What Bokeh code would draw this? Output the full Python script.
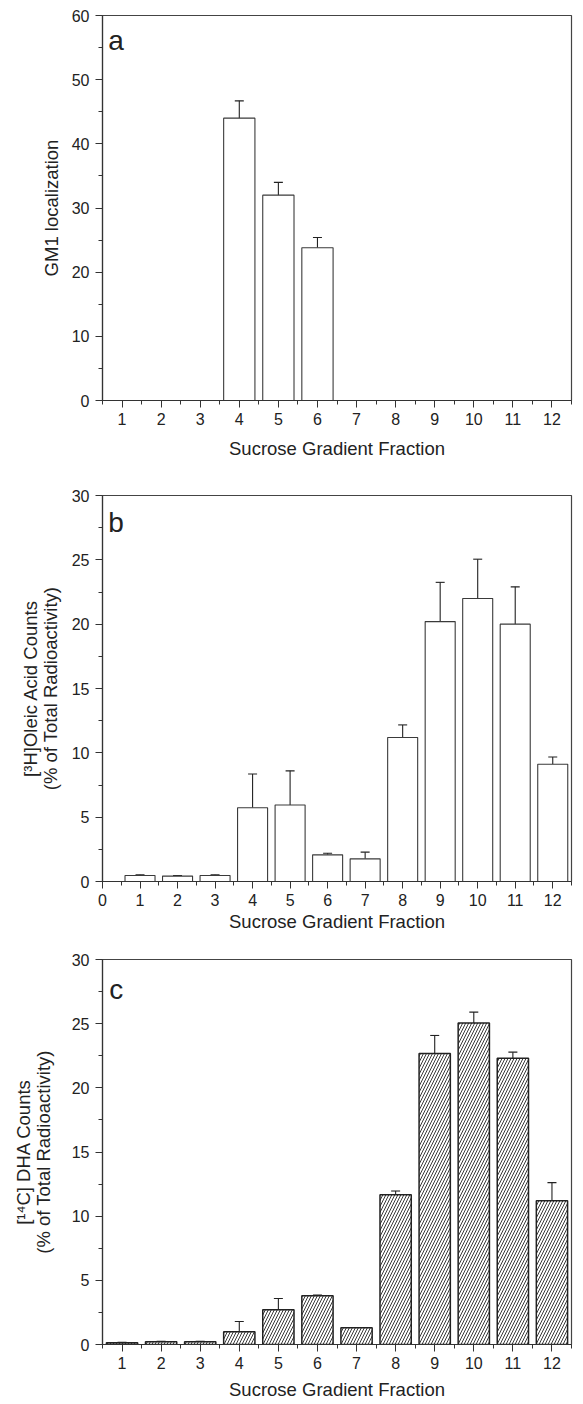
from bokeh.plotting import figure
from bokeh.layouts import column
from bokeh.models import ColumnDataSource, Whisker, TeeHead, FixedTicker, Range1d, Label
from bokeh.embed import file_html
from bokeh.resources import INLINE

# ---------------- data ----------------
fractions = list(range(1, 13))

gm1_values = [0, 0, 0, 44.0, 32.0, 23.8, 0, 0, 0, 0, 0, 0]
gm1_upper = [0, 0, 0, 46.7, 34.0, 25.4, 0, 0, 0, 0, 0, 0]

oleic_values = [0.47, 0.42, 0.47, 5.73, 5.95, 2.07, 1.76, 11.19, 20.2, 22.0, 20.0, 9.11]
oleic_upper = [0.52, 0.46, 0.52, 8.35, 8.6, 2.2, 2.28, 12.17, 23.25, 25.05, 22.9, 9.68]

dha_values = [0.13, 0.21, 0.21, 0.99, 2.7, 3.8, 1.3, 11.67, 22.67, 25.06, 22.31, 11.21]
dha_upper = [0.18, 0.24, 0.24, 1.79, 3.59, 3.85, 1.3, 11.96, 24.08, 25.9, 22.78, 12.61]

x_ticks_a = [1, 2, 3, 4, 5, 6, 7, 8, 9, 10, 11, 12]
x_ticks_b = [0, 1, 2, 3, 4, 5, 6, 7, 8, 9, 10, 11, 12]
x_minor = [0.5, 1.5, 2.5, 3.5, 4.5, 5.5, 6.5, 7.5, 8.5, 9.5, 10.5, 11.5, 12.5]
y_ticks_a = [0, 10, 20, 30, 40, 50, 60]
y_minor_a = [5, 15, 25, 35, 45, 55]
y_ticks_bc = [0, 5, 10, 15, 20, 25, 30]
y_minor_bc = [2.5, 7.5, 12.5, 17.5, 22.5, 27.5]

x_title = "Sucrose Gradient Fraction"
y_title_a = "GM1 localization"
y_title_b = "[\u00b3H]Oleic Acid Counts\n(% of Total Radioactivity)"
y_title_c = "[\u00b9\u2074C] DHA Counts\n(% of Total Radioactivity)"

FONT = "Liberation Sans"
TXT = "#222222"
LINE = "#333333"
W = 583


def make_panel(height, borders, xr, yr, xticks, yticks, yminor, values, upper,
               letter, letter_pos, ytitle, ystandoff, xstandoff, hatch=False):
    top, right, bottom, left = borders
    p = figure(width=W, height=height, output_backend="svg", toolbar_location=None,
               x_range=Range1d(*xr), y_range=Range1d(*yr),
               min_border_top=top, min_border_right=right,
               min_border_bottom=bottom, min_border_left=left)
    p.xgrid.visible = False
    p.ygrid.visible = False
    p.outline_line_color = "#444444"
    p.outline_line_width = 1.2
    p.background_fill_color = "white"
    p.border_fill_color = "white"

    src = ColumnDataSource(dict(x=fractions, top=values, up=upper))
    if hatch:
        p.vbar(x="x", top="top", width=0.8, bottom=0, source=src,
               fill_color="white", line_color="#222222", line_width=1.5,
               hatch_pattern="/", hatch_scale=6, hatch_weight=1, hatch_color="#3a3a3a")
    else:
        p.vbar(x="x", top="top", width=0.8, bottom=0, source=src,
               fill_color="white", line_color="#3a3a3a", line_width=1.1)

    # error bars only where an upper value exceeds the bar
    ex = [x for x, v, u in zip(fractions, values, upper) if u > v]
    ev = [v for v, u in zip(values, upper) if u > v]
    eu = [u for v, u in zip(values, upper) if u > v]
    esrc = ColumnDataSource(dict(base=ex, lower=ev, upper=eu))
    wh = Whisker(base="base", lower="lower", upper="upper", source=esrc,
                 dimension="height", line_color="#222222", line_width=1.1,
                 upper_head=TeeHead(size=9, line_color="#222222", line_width=1.1),
                 lower_head=None)
    p.add_layout(wh)

    for ax in (p.xaxis[0], p.yaxis[0]):
        ax.axis_line_color = LINE
        ax.axis_line_width = 1.2
        ax.major_tick_line_color = LINE
        ax.minor_tick_line_color = LINE
        ax.major_tick_in = 0
        ax.major_tick_out = 7
        ax.minor_tick_in = 0
        ax.minor_tick_out = 4
        ax.major_label_text_font = FONT
        ax.major_label_text_font_size = "16px"
        ax.major_label_text_color = TXT
        ax.axis_label_text_font = FONT
        ax.axis_label_text_font_size = "18.5px"
        ax.axis_label_text_font_style = "normal"
        ax.axis_label_text_color = TXT
        ax.axis_label_text_line_height = 0.95

    p.xaxis[0].ticker = FixedTicker(ticks=xticks, minor_ticks=x_minor)
    p.yaxis[0].ticker = FixedTicker(ticks=yticks, minor_ticks=yminor)
    p.xaxis[0].major_label_standoff = 5
    p.yaxis[0].major_label_standoff = 6
    p.xaxis[0].axis_label = x_title
    p.xaxis[0].axis_label_standoff = xstandoff
    p.yaxis[0].axis_label = ytitle
    p.yaxis[0].axis_label_standoff = ystandoff

    p.add_layout(Label(x=letter_pos[0], y=letter_pos[1], text=letter,
                       text_font=FONT, text_font_size="28px", text_color=TXT,
                       text_baseline="alphabetic", text_align="left"))
    return p


pa = make_panel(465, (15, 2, 65, 102), (0.5, 12.5), (0, 60), x_ticks_a, y_ticks_a, y_minor_a,
                gm1_values, gm1_upper, "a", (0.65, 56.1), y_title_a, 7, 10)
pb = make_panel(470, (30, 3, 54, 102), (0, 12.5), (0, 30), x_ticks_b, y_ticks_bc, y_minor_bc,
                oleic_values, oleic_upper, "b", (0.15, 27.9), y_title_b, 8, 2)
pc = make_panel(469, (24, 12, 60, 102), (0.5, 12.5), (0, 30), x_ticks_a, y_ticks_bc, y_minor_bc,
                dha_values, dha_upper, "c", (0.67, 27.66), y_title_c, 15, 7, hatch=True)

layout = column(pa, pb, pc, spacing=0)
open("out.html", "w").write(file_html(layout, INLINE))
